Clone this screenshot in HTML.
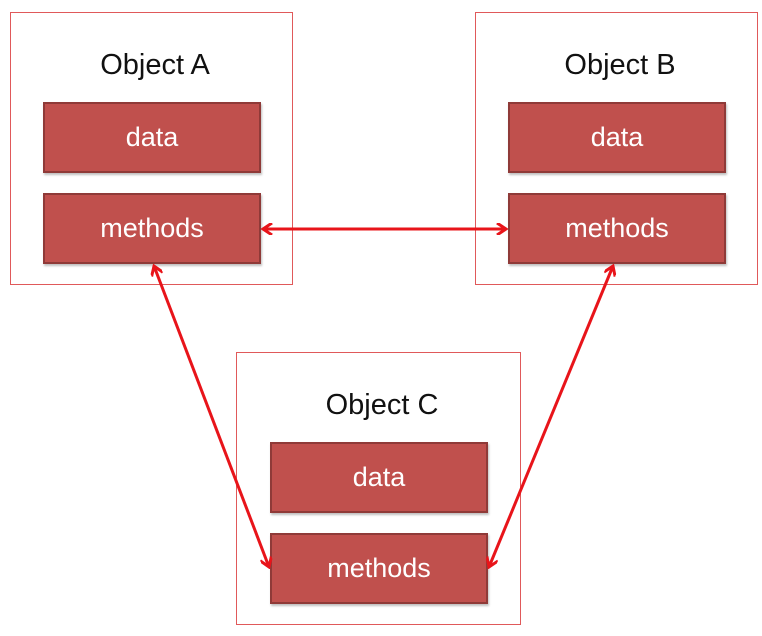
<!DOCTYPE html>
<html><head><style>
body{margin:0;width:762px;height:636px;background:#fff;overflow:hidden;position:relative;font-family:"Liberation Sans",sans-serif}
.o{position:absolute;border:1.5px solid #e0595a;box-sizing:border-box;background:#fff}
.t{position:absolute;text-align:center;font-size:29px;color:#111}
.b{position:absolute;background:#c0504d;border:2px solid #8f3a38;box-sizing:border-box;color:#fff;font-size:27px;text-align:center;line-height:66px;box-shadow:1px 2px 2px rgba(0,0,0,.25)}
</style></head><body>
<div class="o" style="left:10px;top:12px;width:283px;height:273px"></div>
<div class="t" style="left:10px;width:290px;top:49px">Object A</div>
<div class="b" style="left:43px;top:102px;width:218px;height:71px">data</div>
<div class="b" style="left:43px;top:193px;width:218px;height:71px">methods</div>

<div class="o" style="left:475px;top:12px;width:283px;height:273px"></div>
<div class="t" style="left:475px;width:290px;top:49px">Object B</div>
<div class="b" style="left:508px;top:102px;width:218px;height:71px">data</div>
<div class="b" style="left:508px;top:193px;width:218px;height:71px">methods</div>

<div class="o" style="left:236px;top:352px;width:285px;height:273px"></div>
<div class="t" style="left:236px;width:292px;top:389px">Object C</div>
<div class="b" style="left:270px;top:442px;width:218px;height:71px">data</div>
<div class="b" style="left:270px;top:533px;width:218px;height:71px">methods</div>

<svg width="762" height="636" style="position:absolute;left:0;top:0">
<defs><marker id="a" markerWidth="12" markerHeight="12" refX="10" refY="6" orient="auto-start-reverse" markerUnits="userSpaceOnUse"><path d="M1,0 L10,6 L1,12" fill="none" stroke="#e8141a" stroke-width="3"/></marker></defs>
<g stroke="#e8141a" stroke-width="3" fill="none">
<line x1="263" y1="229" x2="506" y2="229" marker-start="url(#a)" marker-end="url(#a)"/>
<line x1="154" y1="266" x2="269" y2="567" marker-start="url(#a)" marker-end="url(#a)"/>
<line x1="613" y1="266" x2="489" y2="567" marker-start="url(#a)" marker-end="url(#a)"/>
</g></svg>
</body></html>
